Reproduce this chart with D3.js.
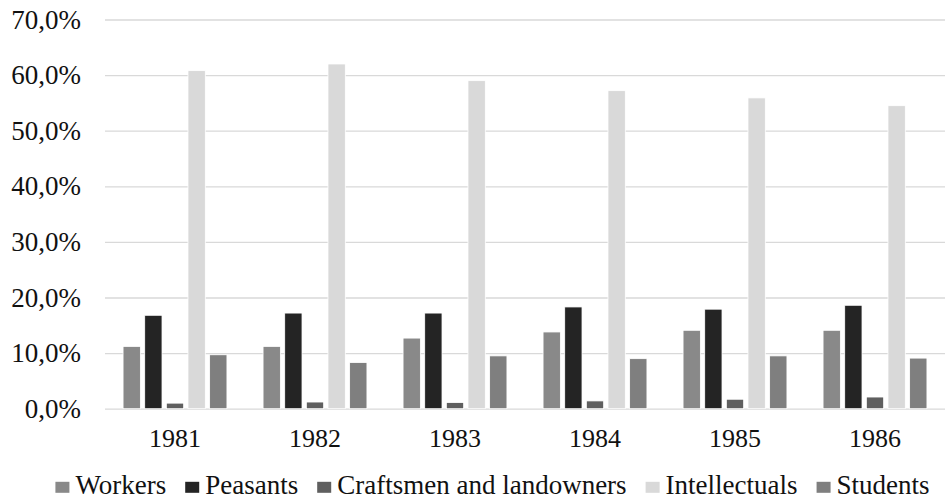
<!DOCTYPE html>
<html>
<head>
<meta charset="utf-8">
<script src="https://cdn.jsdelivr.net/npm/d3@7"></script>
<style>
  html, body { margin: 0; padding: 0; background: #fff; }
  svg { display: block; }
</style>
</head>
<body>
<svg id="chart" width="945" height="499"></svg>
<script>
// Social composition by year, in percent
const years = ["1981", "1982", "1983", "1984", "1985", "1986"];
const seriesNames = ["Workers", "Peasants", "Craftsmen and landowners", "Intellectuals", "Students"];
const workers       = [11.2, 11.2, 12.7, 13.8, 14.1, 14.1];
const peasants      = [16.8, 17.2, 17.2, 18.3, 17.9, 18.6];
const craftsmen     = [1.0, 1.2, 1.1, 1.4, 1.7, 2.1];
const intellectuals = [60.8, 62.0, 59.0, 57.2, 55.9, 54.5];
const students      = [9.7, 8.3, 9.5, 9.0, 9.5, 9.1];
const yTicks = [0, 10, 20, 30, 40, 50, 60, 70];

const seriesValues = [workers, peasants, craftsmen, intellectuals, students];
const colors = ["#898989", "#242424", "#5f5f5f", "#d9d9d9", "#7f7f7f"];
const serif = "'Liberation Serif', 'Times New Roman', Tinos, serif";

const svg = d3.select("#chart");
const plot = { left: 105, right: 945, top: 19.5, bottom: 408.7 };

const y = d3.scaleLinear().domain([0, 70]).range([plot.bottom, plot.top]);
const x0 = d3.scaleBand().domain(years).range([plot.left, plot.right]).padding(0);
const groupPad = x0.bandwidth() * 0.129;
const x1 = d3.scaleBand().domain(seriesNames)
  .range([groupPad, x0.bandwidth() - groupPad]).paddingInner(0.2);

const fmt = v => d3.format(".1f")(v).replace(".", ",") + "%";

const styleText = (sel, size) => sel
  .style("font-family", serif)
  .style("font-size", size + "px")
  .style("fill", "#111");

// Horizontal gridlines with value labels
const yAxis = d3.axisLeft(y).tickValues(yTicks).tickFormat(fmt)
  .tickSize(-(plot.right - plot.left)).tickPadding(24);
const gy = svg.append("g").attr("transform", `translate(${plot.left},0)`).call(yAxis)
  .attr("font-family", serif);
gy.select(".domain").remove();
gy.selectAll(".tick line").attr("stroke", "#d9d9d9").attr("stroke-width", 1.3);
styleText(gy.selectAll(".tick text"), 27);

// Grouped bars
const groups = svg.append("g").selectAll("g")
  .data(years)
  .join("g")
  .attr("transform", d => `translate(${x0(d)},0)`);

groups.selectAll("rect")
  .data((yr, i) => seriesNames.map((s, k) => ({ s, k, v: seriesValues[k][i] })))
  .join("rect")
  .attr("x", d => x1(d.s))
  .attr("width", x1.bandwidth())
  .attr("y", d => y(d.v))
  .attr("height", d => y(0) - y(d.v))
  .attr("fill", d => colors[d.k])
  .attr("stroke", "#ffffff")
  .attr("stroke-width", 0.8);

// Category axis labels
const xAxis = d3.axisBottom(x0).tickSize(0).tickPadding(20);
const gx = svg.append("g").attr("transform", `translate(0,${plot.bottom})`).call(xAxis)
  .attr("font-family", serif);
gx.select(".domain").remove();
styleText(gx.selectAll(".tick text"), 26);

// Legend, laid out from measured label widths and centred
const legend = svg.append("g").attr("font-family", serif);
const swatchW = 14, swatchH = 11, swGap = 6, itemGap = 19;
let cursor = 0;
seriesNames.forEach((name, k) => {
  const g = legend.append("g");
  g.append("rect").attr("x", 0).attr("y", -12.5).attr("width", swatchW).attr("height", swatchH)
    .attr("fill", colors[k]);
  const t = g.append("text").attr("x", swatchW + swGap).attr("y", 0).text(name);
  styleText(t, 27);
  const w = swatchW + swGap + t.node().getComputedTextLength();
  g.attr("transform", `translate(${cursor},0)`);
  cursor += w + itemGap;
});
const totalW = cursor - itemGap;
legend.attr("transform", `translate(${492.5 - totalW / 2},494.3)`);
</script>
</body>
</html>
